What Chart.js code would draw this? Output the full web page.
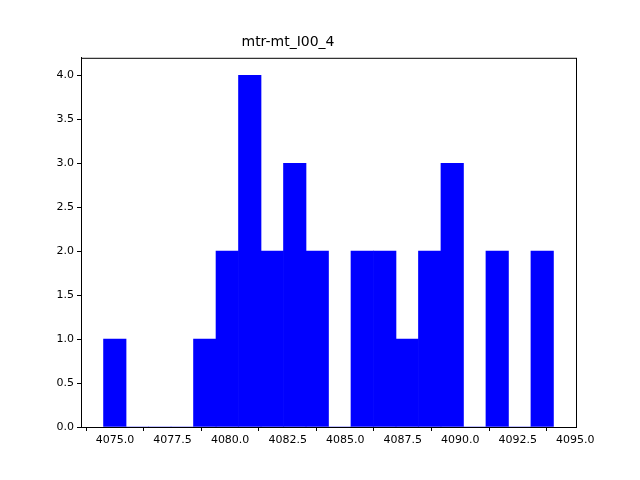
<!DOCTYPE html>
<html><head><script src="https://cdn.jsdelivr.net/npm/chart.js@4"></script>
<style>body{margin:0}</style></head><body>
<div style="width:640px;height:480px"><canvas id="c" width="640" height="480"></canvas></div>
<script>
const binStart = 4074.5, binWidth = 0.9775;
const counts = [1,0,0,0,1,2,4,2,3,2,0,2,2,1,2,3,0,2,0,2];
const xTicks = [4075,4077.5,4080,4082.5,4085,4087.5,4090,4092.5,4095];
const yTicks = [0,0.5,1,1.5,2,2.5,3,3.5,4];
const data = counts.map((c,i)=>({x: binStart + binWidth*(i+0.5), y: c}));
const frame = {id:'frame', afterDraw(ch){const a=ch.chartArea,g=ch.ctx;g.save();g.strokeStyle='#000';g.lineWidth=1;g.strokeRect(a.left+0.5,a.top+0.5,a.right-a.left,a.bottom-a.top);g.restore();}};
new Chart(document.getElementById('c'),{
 type:'bar',
 data:{datasets:[{data, backgroundColor:'#0000ff', barPercentage:1, categoryPercentage:1, borderWidth:0}]},
 options:{responsive:false, animation:false,
  layout:{padding:{top:34,right:64,left:0,bottom:0}},
  plugins:{legend:{display:false}, tooltip:{enabled:false},
   title:{display:true,text:'mtr-mt_I00_4',color:'#000',font:{family:'DejaVu Sans',size:14,weight:'normal'},padding:{top:0,bottom:7}}},
  scales:{
   x:{type:'linear', min:4073.52, max:4095.03, offset:false,
    afterBuildTicks(s){s.ticks=xTicks.map(v=>({value:v}));},
    afterFit(s){s.height=53;},
    ticks:{color:'#000',font:{family:'DejaVu Sans',size:11},maxRotation:0,autoSkip:false,callback:v=>v.toFixed(1)},
    grid:{drawOnChartArea:false,color:'#000',tickLength:4},border:{color:'#000'}},
   y:{min:0,max:4.2,
    afterBuildTicks(s){s.ticks=yTicks.map(v=>({value:v}));},
    afterFit(s){s.width=81;},
    ticks:{color:'#000',font:{family:'DejaVu Sans',size:11},callback:v=>v.toFixed(1)},
    grid:{drawOnChartArea:false,color:'#000',tickLength:4},border:{color:'#000'}}
  }},
 plugins:[frame]
});
</script></body></html>
